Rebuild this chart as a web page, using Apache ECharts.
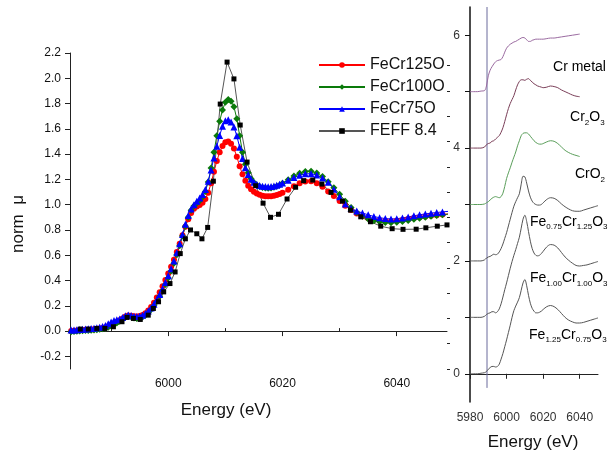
<!DOCTYPE html>
<html><head><meta charset="utf-8">
<script src="https://cdn.jsdelivr.net/npm/echarts@6/dist/echarts.min.js"></script>
<style>html,body{margin:0;padding:0;background:#fff}#c{width:608px;height:453px}</style>
</head><body><div id="c"></div>
<script>
// ---------- Left panel: experimental spectra (shared energy grid) ----------
const energyExp = [5983,5983.5,5984,5984.5,5985,5985.5,5986,5986.5,5987,5987.5,5988,5988.5,5989,5989.5,5990,5990.5,5991,5991.5,5992,5992.5,5993,5993.5,5994,5994.5,5995,5995.5,5996,5996.5,5997,5997.5,5998,5998.5,5999,5999.5,6000,6000.5,6001,6001.5,6002,6002.5,6003,6003.5,6004,6004.5,6005,6005.5,6006,6006.5,6007,6007.5,6008,6008.5,6009,6009.5,6010,6010.5,6011,6011.5,6012,6012.5,6013,6013.5,6014,6014.5,6015,6015.5,6016,6016.5,6017,6017.5,6018,6018.5,6019,6019.5,6020,6021,6022,6023,6024,6025,6026,6027,6028,6029,6030,6031,6032,6033,6034,6035,6036,6037,6038,6039,6040,6041,6042,6043,6044,6045,6046,6047,6048,6049];
const feCr125O = [0.000,0.002,0.004,0.006,0.008,0.010,0.011,0.013,0.015,0.017,0.020,0.024,0.030,0.038,0.048,0.060,0.072,0.085,0.100,0.115,0.124,0.122,0.117,0.116,0.120,0.128,0.142,0.162,0.190,0.225,0.265,0.308,0.355,0.405,0.455,0.508,0.565,0.625,0.690,0.758,0.825,0.885,0.935,0.968,0.985,0.998,1.015,1.045,1.095,1.170,1.260,1.345,1.415,1.465,1.493,1.500,1.483,1.445,1.380,1.305,1.240,1.190,1.150,1.122,1.102,1.088,1.078,1.071,1.067,1.066,1.067,1.070,1.076,1.084,1.094,1.118,1.146,1.170,1.184,1.185,1.170,1.142,1.105,1.068,1.030,0.992,0.958,0.930,0.908,0.892,0.881,0.874,0.870,0.869,0.872,0.878,0.886,0.894,0.901,0.907,0.912,0.917,0.922,0.927];
const feCr100O = [-0.005,-0.004,-0.002,0.000,0.002,0.004,0.005,0.007,0.009,0.011,0.014,0.018,0.023,0.030,0.040,0.052,0.064,0.078,0.094,0.110,0.118,0.113,0.104,0.100,0.103,0.112,0.126,0.145,0.170,0.200,0.235,0.275,0.320,0.368,0.420,0.476,0.537,0.603,0.675,0.752,0.830,0.900,0.955,0.990,1.012,1.032,1.060,1.105,1.180,1.290,1.415,1.545,1.660,1.750,1.810,1.832,1.818,1.775,1.680,1.545,1.415,1.320,1.252,1.205,1.175,1.156,1.143,1.135,1.131,1.130,1.132,1.137,1.145,1.156,1.170,1.198,1.226,1.249,1.263,1.264,1.250,1.222,1.182,1.134,1.082,1.028,0.978,0.938,0.908,0.887,0.873,0.864,0.859,0.858,0.861,0.867,0.875,0.884,0.893,0.901,0.908,0.914,0.920,0.925];
const feCr75O = [0.008,0.009,0.011,0.013,0.015,0.017,0.019,0.021,0.023,0.026,0.030,0.036,0.045,0.058,0.072,0.084,0.090,0.096,0.108,0.122,0.127,0.123,0.117,0.115,0.118,0.126,0.140,0.158,0.182,0.212,0.248,0.289,0.335,0.385,0.437,0.494,0.555,0.620,0.690,0.765,0.845,0.915,0.965,1.000,1.028,1.052,1.080,1.120,1.185,1.275,1.370,1.462,1.548,1.620,1.664,1.672,1.655,1.615,1.545,1.455,1.365,1.292,1.238,1.202,1.178,1.162,1.152,1.146,1.143,1.142,1.144,1.148,1.154,1.162,1.172,1.193,1.215,1.233,1.244,1.245,1.235,1.212,1.178,1.122,1.062,1.005,0.972,0.950,0.934,0.920,0.906,0.897,0.890,0.887,0.889,0.895,0.903,0.912,0.920,0.927,0.933,0.938,0.943,0.947];
// FEFF 8.4 calculation (own energy grid)
const energyFeff = [5984.6,5986.0,5987.5,5988.9,5990.4,5991.9,5992.8,5993.9,5995.1,5996.5,5997.4,5998.3,5999.2,6000.3,6001.2,6002.1,6003.0,6003.9,6005.0,6005.9,6006.9,6007.9,6009.1,6010.3,6011.5,6012.6,6013.8,6015.3,6016.6,6017.9,6019.3,6020.8,6022.3,6023.7,6025.3,6026.9,6028.5,6030.5,6031.9,6033.7,6035.4,6037.2,6039.2,6041.1,6043.4,6045.1,6047.1,6048.8];
const feff84 = [0.016,0.016,0.021,0.021,0.034,0.074,0.108,0.100,0.092,0.126,0.179,0.232,0.310,0.376,0.468,0.613,0.730,0.800,0.770,0.730,0.820,1.186,1.796,2.128,1.995,1.630,1.337,1.150,1.012,0.900,0.924,1.045,1.138,1.190,1.195,1.163,1.097,1.028,0.957,0.904,0.865,0.830,0.810,0.805,0.806,0.817,0.830,0.840];

// ---------- Right panel: stacked reference spectra ----------
const energyRef = [5980,5982,5984,5986,5988,5989,5990,5991,5992,5993,5994,5995,5996,5997,5998,5999,6000,6001,6002,6003,6004,6005,6006,6007,6008,6009,6010,6011,6012,6013,6014,6015,6016,6017,6018,6019,6020,6022,6024,6026,6028,6030,6032,6034,6036,6038,6040];
const energyFe = [5980,5982,5984,5986,5988,5989,5990,5991,5992,5993,5994,5995,5996,5997,5998,5999,6000,6001,6002,6003,6004,6005,6006,6007,6008,6009,6010,6011,6012,6013,6014,6015,6016,6017,6018,6019,6020,6022,6024,6026,6028,6030,6032,6034,6036,6038,6040,6042,6044,6046,6048,6050];
const crMetal = [5.00,5.00,5.00,5.01,5.02,5.10,5.28,5.38,5.44,5.49,5.53,5.55,5.56,5.57,5.62,5.70,5.77,5.81,5.84,5.86,5.88,5.89,5.91,5.93,5.95,5.96,5.95,5.92,5.89,5.89,5.91,5.92,5.93,5.93,5.93,5.93,5.93,5.94,5.95,5.95,5.96,5.97,5.98,5.99,6.00,6.01,6.02];
const cr2o3 = [4.00,4.00,4.00,4.00,4.02,4.06,4.08,4.09,4.12,4.13,4.16,4.19,4.22,4.28,4.36,4.47,4.59,4.70,4.79,4.86,4.93,5.03,5.12,5.18,5.21,5.21,5.20,5.22,5.23,5.20,5.17,5.14,5.12,5.10,5.09,5.08,5.07,5.08,5.10,5.09,5.07,5.03,5.00,4.97,4.94,4.92,4.91];
const cro2 = [3.00,3.00,3.00,3.00,3.01,3.03,3.05,3.08,3.11,3.13,3.14,3.13,3.12,3.14,3.20,3.32,3.46,3.56,3.65,3.75,3.84,3.93,4.04,4.13,4.22,4.26,4.27,4.27,4.25,4.21,4.17,4.13,4.10,4.08,4.07,4.07,4.08,4.11,4.13,4.12,4.08,4.02,3.96,3.92,3.89,3.87,3.85];
const fe075 = [2.00,2.00,2.00,2.00,2.02,2.05,2.07,2.08,2.10,2.12,2.11,2.12,2.16,2.22,2.30,2.40,2.50,2.62,2.74,2.86,2.97,3.05,3.12,3.19,3.36,3.50,3.49,3.38,3.24,3.13,3.06,3.02,3.00,2.99,2.99,3.00,3.03,3.09,3.12,3.11,3.07,3.01,2.96,2.92,2.89,2.88,2.88,2.90,2.92,2.94,2.96,2.98];
const fe100 = [1.00,1.00,1.00,1.00,1.02,1.05,1.07,1.08,1.10,1.10,1.08,1.10,1.15,1.24,1.36,1.49,1.61,1.74,1.87,1.99,2.10,2.20,2.31,2.42,2.58,2.74,2.81,2.70,2.52,2.35,2.22,2.14,2.10,2.09,2.10,2.13,2.17,2.25,2.29,2.28,2.23,2.15,2.07,2.01,1.96,1.92,1.91,1.92,1.93,1.95,1.97,1.99];
const fe125 = [0.00,0.00,0.00,0.01,0.02,0.04,0.08,0.11,0.13,0.13,0.12,0.13,0.17,0.26,0.36,0.48,0.60,0.73,0.86,1.00,1.12,1.20,1.27,1.35,1.48,1.61,1.67,1.56,1.39,1.25,1.16,1.11,1.08,1.08,1.09,1.11,1.14,1.19,1.21,1.19,1.14,1.07,1.00,0.95,0.92,0.90,0.90,0.91,0.93,0.95,0.97,0.99];
const edgeLineE = [5989.3, 5989.3];
const edgeLineY = [-0.25, 6.5];

// tick values / labels
const leftYTicks = [-0.2,0.0,0.2,0.4,0.6,0.8,1.0,1.2,1.4,1.6,1.8,2.0,2.2];
const leftYMinor = [-0.3,-0.1,0.1,0.3,0.5,0.7,0.9,1.1,1.3,1.5,1.7,1.9,2.1];
const leftXTicks = [6000,6020,6040];
const leftXMinor = [5990,6010,6030];
const rightXTicks = [5980,6000,6020,6040];
const rightYTicks = [0,1,2,3,4,5,6];
const rightYLabels = [0,2,4,6];

const refLabels = [
  {text:'{n|Cr metal}', at:[6025.4,5.44]},
  {text:'{n|Cr}{s|2}{n|O}{s|3}', at:[6034.7,4.54]},
  {text:'{n|CrO}{s|2}', at:[6037.4,3.53]},
  {text:'{n|Fe}{s|0.75}{n|Cr}{s|1.25}{n|O}{s|3}', at:[6012.8,2.69]},
  {text:'{n|Fe}{s|1.00}{n|Cr}{s|1.00}{n|O}{s|3}', at:[6012.8,1.69]},
  {text:'{n|Fe}{s|1.25}{n|Cr}{s|0.75}{n|O}{s|3}', at:[6012.3,0.69]}
];

const FF = '"Liberation Sans", Arial, sans-serif';
const zip = (xs, ys) => xs.map((x, i) => [x, ys[i]]);
const plain = v => String(v);

const chart = echarts.init(document.getElementById('c'), null, {renderer:'canvas'});

function expSeries(name, data, color, symbol, size){
  return {name, type:'line', xAxisIndex:0, yAxisIndex:0, data:zip(energyExp, data),
    symbol, symbolSize:size, showAllSymbol:true, color,
    lineStyle:{width:1, color}, itemStyle:{color}, emphasis:{disabled:true}, animation:false};
}
function refSeries(xs, data, color){
  return {type:'line', xAxisIndex:2, yAxisIndex:2, data:zip(xs, data), symbol:'none', smooth:0.3,
    lineStyle:{width:1, color}, emphasis:{disabled:true}, animation:false, silent:true};
}

const axisLine = {show:true, lineStyle:{color:'#222', width:1}};
const option = {
  backgroundColor:'#fff',
  animation:false,
  grid:[
    {left:70, top:53, width:377, height:316},
    {left:470, top:7, width:128, height:395}
  ],
  legend:{
    data:['FeCr125O','FeCr100O','FeCr75O','FEFF 8.4'],
    orient:'vertical', left:313, top:52, itemWidth:46, itemHeight:7, itemGap:6,
    textStyle:{fontSize:16, fontFamily:FF, color:'#111'}, selectedMode:false
  },
  xAxis:[
    {gridIndex:0, type:'value', min:5982.8, max:6048.8, axisLine,
      axisTick:{show:true, inside:false, length:5, customValues:leftXTicks, lineStyle:{color:'#222'}},
      axisLabel:{customValues:leftXTicks, fontSize:12, fontFamily:FF, color:'#111', margin:9, formatter:plain},
      splitLine:{show:false}},
    {gridIndex:0, type:'value', min:5982.8, max:6048.8, axisLine:{show:false},
      axisTick:{show:true, length:3, customValues:leftXMinor, lineStyle:{color:'#222'}},
      axisLabel:{show:false}, splitLine:{show:false}},
    {gridIndex:1, type:'value', min:5980, max:6050, axisLine,
      axisTick:{show:true, length:5, customValues:rightXTicks, lineStyle:{color:'#222'}},
      axisLabel:{customValues:rightXTicks, fontSize:12, fontFamily:FF, color:'#333', margin:10, formatter:plain},
      splitLine:{show:false}}
  ],
  yAxis:[
    {gridIndex:0, type:'value', min:-0.3, max:2.2, axisLine,
      axisTick:{show:true, length:5, customValues:leftYTicks, lineStyle:{color:'#222'}},
      axisLabel:{customValues:leftYTicks, fontSize:12, fontFamily:FF, color:'#111', margin:9,
        formatter:v => v.toFixed(1)},
      splitLine:{show:false}},
    {gridIndex:0, type:'value', min:-0.3, max:2.2, axisLine:{show:false},
      axisTick:{show:true, length:3, customValues:leftYMinor, lineStyle:{color:'#222'}},
      axisLabel:{show:false}, splitLine:{show:false}},
    {gridIndex:1, type:'value', min:-0.5, max:6.5,
      axisLine:{show:true, lineStyle:{color:'#111', width:1.5}},
      axisTick:{show:true, length:5, customValues:rightYTicks, lineStyle:{color:'#111'}},
      axisLabel:{customValues:rightYLabels, fontSize:12, fontFamily:FF, color:'#333', margin:10, formatter:plain},
      splitLine:{show:false}}
  ],
  series:[
    expSeries('FeCr125O', feCr125O, '#ff0000', 'circle', 6),
    expSeries('FeCr100O', feCr100O, '#0a7a0a', 'diamond', 7),
    expSeries('FeCr75O', feCr75O, '#0000ff', 'triangle', 7),
    {name:'FEFF 8.4', type:'line', xAxisIndex:0, yAxisIndex:0, data:zip(energyFeff, feff84),
      symbol:'rect', symbolSize:5, showAllSymbol:true, color:'#000',
      lineStyle:{width:1, color:'#555'}, itemStyle:{color:'#000'}, emphasis:{disabled:true}, animation:false},
    {type:'line', xAxisIndex:2, yAxisIndex:2, data:zip(edgeLineE, edgeLineY), symbol:'none',
      lineStyle:{width:1, color:'#6a6a9c'}, silent:true, animation:false},
    refSeries(energyRef, crMetal, '#9a6aa0'),
    refSeries(energyRef, cr2o3, '#7a3e58'),
    refSeries(energyRef, cro2, '#5a9e5a'),
    refSeries(energyFe, fe075, '#555555'),
    refSeries(energyFe, fe100, '#555555'),
    refSeries(energyFe, fe125, '#555555')
  ]
};
chart.setOption(option);

const rich = {
  n:{fontSize:14, fontFamily:FF, color:'#111', lineHeight:20},
  s:{fontSize:8, fontFamily:FF, color:'#111', lineHeight:9, padding:[10,0,0,0]}
};
const graphics = [
  {type:'text', x:226, y:410, style:{text:'Energy (eV)', font:'17px '+FF, fill:'#111', align:'center', verticalAlign:'middle'}},
  {type:'text', x:533, y:442, style:{text:'Energy (eV)', font:'17px '+FF, fill:'#111', align:'center', verticalAlign:'middle'}},
  {type:'text', x:18, y:224, rotation:Math.PI/2, style:{text:'norm  μ', font:'17px '+FF, fill:'#111', align:'center', verticalAlign:'middle'}}
];
refLabels.forEach(l => {
  const p = chart.convertToPixel({xAxisIndex:2, yAxisIndex:2}, l.at);
  graphics.push({type:'text', x:p[0], y:p[1], style:{text:l.text, rich, align:'left', verticalAlign:'middle'}});
});
chart.setOption({graphic:graphics});
</script>
</body></html>
